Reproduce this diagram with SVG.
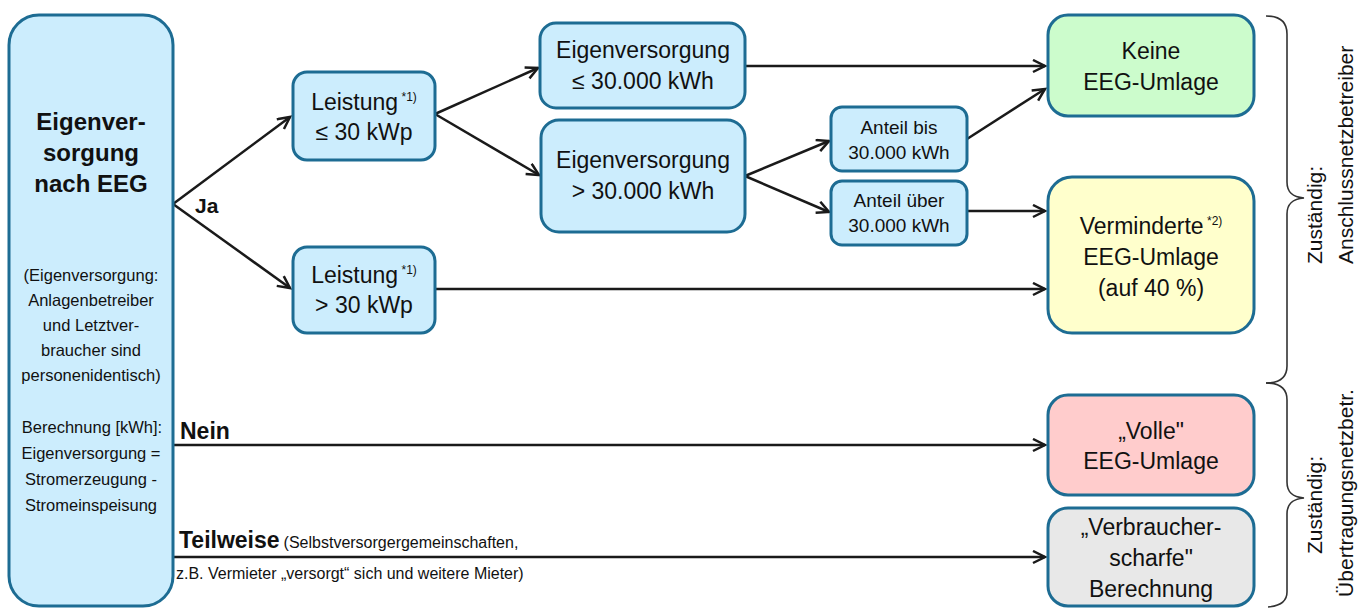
<svg xmlns="http://www.w3.org/2000/svg" width="1371" height="610" viewBox="0 0 1371 610">
<style>
.box{stroke:#1D6C93;stroke-width:3}
.blue{fill:#CCEDFD}
.green{fill:#CCFCCC}
.yellow{fill:#FFFFCC}
.red{fill:#FFCCCC}
.gray{fill:#E8E8E8}
text{font-family:"Liberation Sans",Arial,sans-serif;fill:#111}
.t{font-size:23px;text-anchor:middle}
.ts{font-size:19px;text-anchor:middle}
.tm{font-size:16.5px;text-anchor:middle}
.tb{font-size:24px;font-weight:bold;text-anchor:middle}
.lbl{font-weight:bold}
.rot{font-size:21px}
.conn{stroke:#1a1a1a;stroke-width:2.5;fill:none}
.brace{stroke:#333;stroke-width:1.6;fill:none}
</style>
<defs>
<marker id="arr" markerUnits="userSpaceOnUse" markerWidth="16" markerHeight="16" refX="13" refY="7" orient="auto">
<path d="M1,1 L13,7 L1,13" fill="none" stroke="#1a1a1a" stroke-width="2.5"/>
</marker>
</defs>

<g id="connectors">
<path class="conn" d="M173,204 L290,117" marker-end="url(#arr)"/>
<path class="conn" d="M173,204 L290,288" marker-end="url(#arr)"/>
<path class="conn" d="M435,114 L538,68" marker-end="url(#arr)"/>
<path class="conn" d="M435,114 L539,175" marker-end="url(#arr)"/>
<path class="conn" d="M745,66 L1045,66" marker-end="url(#arr)"/>
<path class="conn" d="M745,176 L829,141" marker-end="url(#arr)"/>
<path class="conn" d="M745,176 L829,212" marker-end="url(#arr)"/>
<path class="conn" d="M967,139 L1045,89" marker-end="url(#arr)"/>
<path class="conn" d="M967,211 L1045,211" marker-end="url(#arr)"/>
<path class="conn" d="M435,289 L1045,289" marker-end="url(#arr)"/>
<path class="conn" d="M173,445 L1045,445" marker-end="url(#arr)"/>
<path class="conn" d="M173,557 L1045,557" marker-end="url(#arr)"/>
<text class="lbl" x="195" y="213" font-size="21">Ja</text>
<text class="lbl" x="180" y="439" font-size="23">Nein</text>
<text x="179" y="548"><tspan class="lbl" font-size="23">Teilweise</tspan><tspan font-size="16" dx="4">(Selbstversorgergemeinschaften,</tspan></text>
<text x="176" y="579" font-size="16">z.B. Vermieter „versorgt“ sich und weitere Mieter)</text>
</g>

<g id="node-eigenversorgung">
<rect class="box blue" x="9" y="15" width="164" height="591" rx="30"/>
<text class="tb" x="91" y="130">Eigenver-</text>
<text class="tb" x="91" y="161">sorgung</text>
<text class="tb" x="91" y="192">nach EEG</text>
<text class="tm" x="91" y="281">(Eigenversorgung:</text>
<text class="tm" x="91" y="306">Anlagenbetreiber</text>
<text class="tm" x="91" y="331">und Letztver-</text>
<text class="tm" x="91" y="356">braucher sind</text>
<text class="tm" x="91" y="381">personenidentisch)</text>
<text class="tm" x="92" y="433">Berechnung [kWh]:</text>
<text class="tm" x="91" y="459">Eigenversorgung =</text>
<text class="tm" x="91" y="485">Stromerzeugung -</text>
<text class="tm" x="91" y="511">Stromeinspeisung</text>
</g>

<g id="node-leistung-klein">
<rect class="box blue" x="293" y="72" width="142" height="88" rx="14"/>
<text class="t" x="364" y="110">Leistung<tspan font-size="12" dy="-9"> *1)</tspan></text>
<text class="t" x="364" y="140">≤ 30 kWp</text>
</g>

<g id="node-leistung-gross">
<rect class="box blue" x="293" y="247" width="142" height="86" rx="14"/>
<text class="t" x="364" y="283">Leistung<tspan font-size="12" dy="-9"> *1)</tspan></text>
<text class="t" x="364" y="313">&gt; 30 kWp</text>
</g>

<g id="node-ev-klein">
<rect class="box blue" x="540" y="23" width="205" height="85" rx="16"/>
<text class="t" x="643" y="58">Eigenversorgung</text>
<text class="t" x="643" y="89">≤ 30.000 kWh</text>
</g>

<g id="node-ev-gross">
<rect class="box blue" x="541" y="120" width="204" height="112" rx="18"/>
<text class="t" x="643" y="168">Eigenversorgung</text>
<text class="t" x="643" y="199">&gt; 30.000 kWh</text>
</g>

<g id="node-anteil-bis">
<rect class="box blue" x="831" y="107" width="136" height="64" rx="11"/>
<text class="ts" x="899" y="134">Anteil bis</text>
<text class="ts" x="899" y="159">30.000 kWh</text>
</g>

<g id="node-anteil-ueber">
<rect class="box blue" x="831" y="181" width="136" height="64" rx="11"/>
<text class="ts" x="899" y="207">Anteil über</text>
<text class="ts" x="899" y="232">30.000 kWh</text>
</g>

<g id="node-keine">
<rect class="box green" x="1048" y="15" width="206" height="101" rx="20"/>
<text class="t" x="1151" y="59">Keine</text>
<text class="t" x="1151" y="90">EEG-Umlage</text>
</g>

<g id="node-verminderte">
<rect class="box yellow" x="1048" y="177" width="206" height="156" rx="24"/>
<text class="t" x="1151" y="234">Verminderte<tspan font-size="12" dy="-9"> *2)</tspan></text>
<text class="t" x="1151" y="265">EEG-Umlage</text>
<text class="t" x="1151" y="296">(auf 40 %)</text>
</g>

<g id="node-volle">
<rect class="box red" x="1048" y="395" width="206" height="100" rx="20"/>
<text class="t" x="1151" y="439">„Volle"</text>
<text class="t" x="1151" y="469">EEG-Umlage</text>
</g>

<g id="node-verbraucher">
<rect class="box gray" x="1048" y="508" width="206" height="98" rx="20"/>
<text class="t" x="1151" y="535">„Verbraucher-</text>
<text class="t" x="1151" y="566">scharfe"</text>
<text class="t" x="1151" y="597">Berechnung</text>
</g>

<g id="zustaendig-anschluss">
<path class="brace" d="M1266,16 C1280,16 1287,22 1287,34 L1287,182 C1287,192 1292,197 1304,198 C1292,199 1287,204 1287,214 L1287,366 C1287,378 1280,383 1266,383"/>
<text class="rot" transform="translate(1322,264) rotate(-90)">Zuständig:</text>
<text class="rot" transform="translate(1353,264) rotate(-90)">Anschlussnetzbetreiber</text>
</g>

<g id="zustaendig-uebertragung">
<path class="brace" d="M1266,383 C1280,383 1287,388 1287,400 L1287,482 C1287,492 1292,497 1304,498 C1292,499 1287,504 1287,514 L1287,592 C1287,602 1280,606 1268,607"/>
<text class="rot" font-size="20" text-anchor="middle" transform="translate(1322,505) rotate(-90)">Zuständig:</text>
<text class="rot" text-anchor="middle" transform="translate(1353,493) rotate(-90)">Übertragungsnetzbetr.</text>
</g>
</svg>
